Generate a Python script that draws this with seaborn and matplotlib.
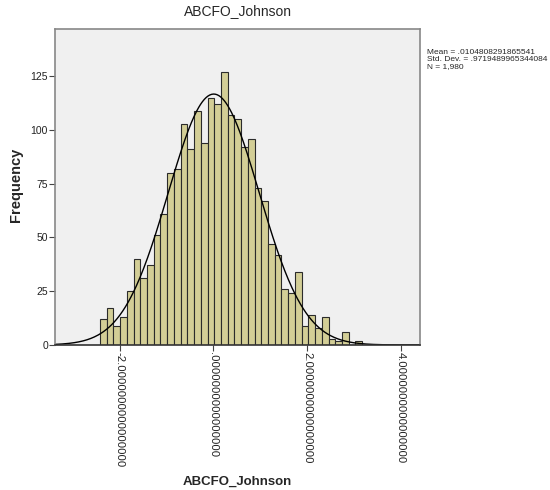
import numpy as np
import pandas as pd
import matplotlib
matplotlib.use("Agg")
import matplotlib.pyplot as plt
import seaborn as sns

# ---------------------------- DATA ----------------------------
# bin counts (39 bins, left to right)
counts = [12, 17, 9, 13, 25, 40, 31, 37, 51, 61, 80, 82, 103, 91, 109, 94,
          115, 112, 127, 107, 105, 92, 96, 73, 67, 47, 42, 26, 24, 34, 9,
          14, 8, 13, 3, 2, 6, 0, 2]
bin_start = -2.42
bin_width = 0.1436

stat_mean = 0.0104808291865541
stat_sd = 0.9719489965344084
stat_n = 1980

x_ticks = [-2, 0, 2, 4]
x_tick_labels = ["-2.0000000000000000", ".0000000000000000",
                 "2.0000000000000000", "4.0000000000000000"]
y_ticks = [0, 25, 50, 75, 100, 125]

# histogram table
edges = bin_start + bin_width * np.arange(len(counts) + 1)
df = pd.DataFrame({"value": (edges[:-1] + edges[1:]) / 2, "count": counts})

# ---------------------------- PLOT ----------------------------
sns.set_style("white")
plt.rcParams["font.family"] = ["Liberation Sans", "DejaVu Sans"]

fig = plt.figure(figsize=(5.5, 4.9), dpi=100)
ax = fig.add_axes([0.1, 0.296, 0.664, 0.645])
ax.set_facecolor("#F0F0F0")

sns.histplot(data=df, x="value", weights="count", bins=edges.tolist(), ax=ax,
             color="#D3CE96", edgecolor="#2b2b2b", linewidth=0.8, alpha=1)

# fitted normal curve from the reported stats
xs = np.linspace(-3.4, 4.4, 400)
ys = stat_n * bin_width * np.exp(-0.5 * ((xs - stat_mean) / stat_sd) ** 2) / (stat_sd * np.sqrt(2 * np.pi))
sns.lineplot(x=xs, y=ys, ax=ax, color="black", linewidth=1.0)

ax.set_xlim(-3.38, 4.42)
ax.set_ylim(0, 147)
ax.set_xticks(x_ticks)
ax.set_xticklabels(x_tick_labels, rotation=-90, fontsize=8.1, color="#222222")
ax.set_yticks(y_ticks)
ax.set_yticklabels([str(v) for v in y_ticks], fontsize=7.5, color="#222222")
ax.tick_params(axis="both", direction="out", length=4, width=0.8,
               color="#444444", pad=1, bottom=True, left=True)

for side in ["top", "right", "left"]:
    ax.spines[side].set_color("#888888")
    ax.spines[side].set_linewidth(1.2)
ax.spines["bottom"].set_color("#333333")
ax.spines["bottom"].set_linewidth(1.2)

ax.set_xlabel("ABCFO_Johnson", fontsize=9.5, fontweight="bold")
ax.xaxis.set_label_coords(0.5, -0.415)
ax.set_ylabel("Frequency", fontsize=10.5, fontweight="bold")
ax.yaxis.set_label_coords(-0.088, 0.506)
ax.set_title("ABCFO_Johnson", fontsize=10, pad=10)

fig.text(0.777, 0.9, "Mean = .0104808291865541\nStd. Dev. = .9719489965344084\nN = 1,980",
         fontsize=6, va="top", ha="left", linespacing=1.05)

fig.savefig("out.png", dpi=100)
